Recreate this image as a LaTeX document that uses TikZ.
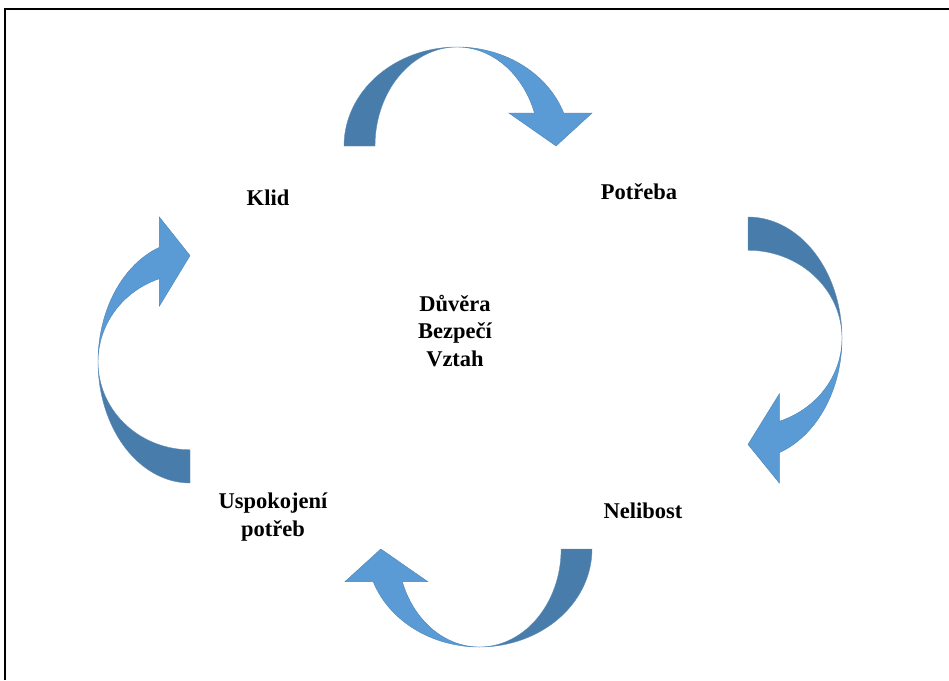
\documentclass[tikz,border=0pt]{standalone}
\usepackage{fontspec}
\setmainfont{Liberation Serif}
\definecolor{arrlight}{RGB}{91,155,213}
\definecolor{arrdark}{RGB}{72,124,170}
\tikzset{
  lbl/.style={font=\fontsize{22.5}{27.5}\selectfont\bfseries, align=center, inner sep=0pt},
  darkpart/.style={fill=arrdark, draw=arrdark!85!white, line width=0.4pt},
  lightpart/.style={fill=arrlight, draw=arrlight!85!black, line width=0.4pt}
}
\newcommand\curvedarrowshape{%
  \filldraw[darkpart] plot[domain=180:90,samples=40] ({0.456+0.456*cos(\x)},{sin(\x)})
     -- plot[domain=90:180,samples=40] ({0.456+0.331*cos(\x)},{sin(\x)}) -- cycle;
  \filldraw[lightpart] plot[domain=90:19.47,samples=30] ({0.456+0.456*cos(\x)},{sin(\x)})
     -- (1,0.333) -- (0.855,0) -- (0.665,0.333)
     -- plot[domain=19.47:90,samples=30] ({0.456+0.331*cos(\x)},{sin(\x)}) -- cycle;
}
\begin{document}
\begin{tikzpicture}[x=1pt,y=1pt]
\useasboundingbox (0,0) rectangle (949,-680);
\fill[white] (0,0) rectangle (949,-680);
\draw[line width=1.6pt] (5,-680) -- (5,-9) -- (949,-9);
% top arrow
\begin{scope}[shift={(344,-146)}, x={(248pt,0pt)}, y={(0pt,99pt)}]
  \curvedarrowshape
\end{scope}
% right arrow
\begin{scope}[shift={(748,-217)}, x={(0pt,-266pt)}, y={(94pt,0pt)}]
  \curvedarrowshape
\end{scope}
% bottom arrow
\begin{scope}[shift={(592,-549)}, x={(-247pt,0pt)}, y={(0pt,-98pt)}]
  \curvedarrowshape
\end{scope}
% left arrow
\begin{scope}[shift={(190,-483)}, x={(0pt,266pt)}, y={(-92pt,0pt)}]
  \curvedarrowshape
\end{scope}
\node[lbl] (klid) at (268,-198) {Klid};
\node[lbl] (potreba) at (639,-192) {Potřeba};
\node[lbl] (stred) at (455,-331) {Důvěra\\Bezpečí\\Vztah};
\node[lbl] (nelibost) at (643,-511) {Nelibost};
\node[lbl] (uspokojeni) at (273,-517) {Uspokojení\\potřeb};
\end{tikzpicture}
\end{document}
